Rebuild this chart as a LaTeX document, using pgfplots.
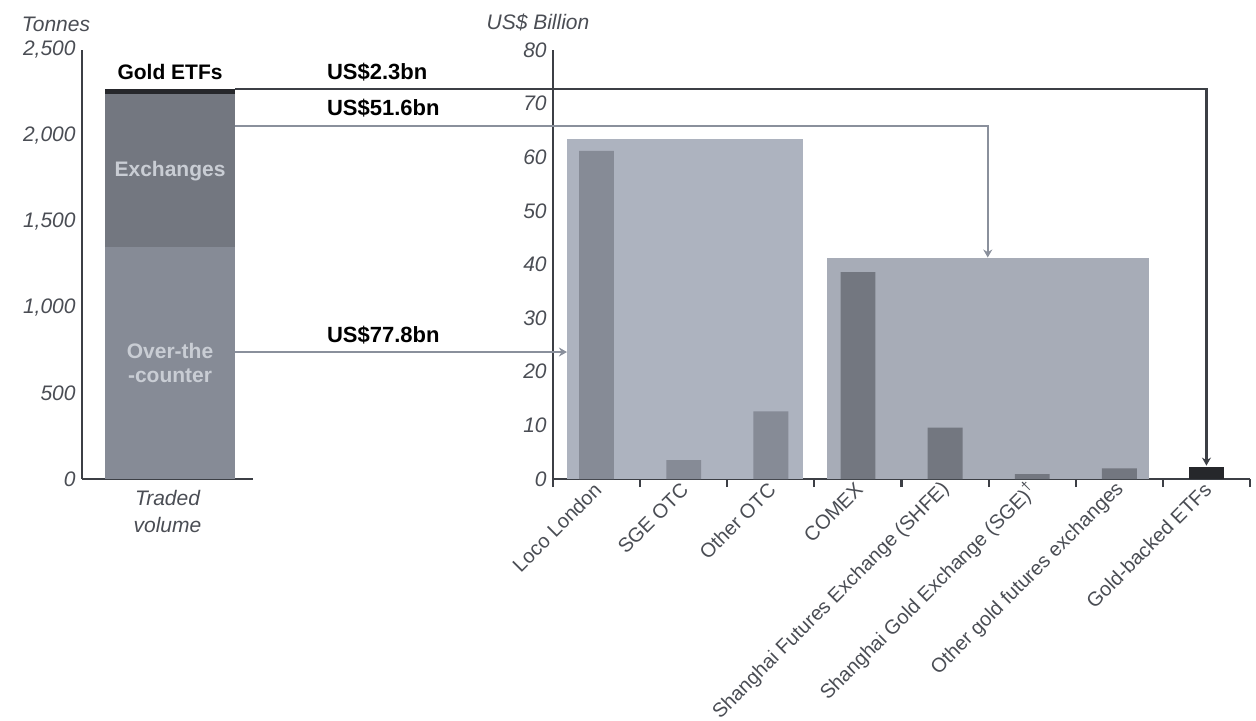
\documentclass[border=0pt]{standalone}
\usepackage{pgfplots}
\pgfplotsset{compat=1.18}
\usepackage{fontspec}
\setmainfont{Liberation Sans}
\usetikzlibrary{arrows.meta}
\definecolor{axcol}{HTML}{3C3F45}
\definecolor{tickcol}{HTML}{4A4D54}
\definecolor{otcbar}{HTML}{868B96}
\definecolor{exbar}{HTML}{737780}
\definecolor{etfbar}{HTML}{26272B}
\definecolor{otcbox}{HTML}{ADB3BF}
\definecolor{exbox}{HTML}{A7ACB7}
\definecolor{linegrey}{HTML}{8A909C}
\definecolor{lbltxt}{HTML}{C9CDD4}
\pgfplotsset{
 common/.style={
  scale only axis, height=214.5pt,
  axis lines*=left,
  axis line style={draw=axcol, line width=1.1pt},
  tick align=outside, major tick length=0pt, minor tick length=4pt,
  ytick style={draw=none},
  minor tick style={draw=axcol, line width=1.1pt},
  tick label style={font=\fontsize{10.5}{12}\selectfont\itshape, text=tickcol},
  yticklabel style={inner sep=1pt, xshift=-2pt},
  /pgf/number format/assume math mode=true,
  ymin=0, clip=false, enlargelimits=false,
 }
}
\begin{document}
\begin{tikzpicture}
\useasboundingbox (-41pt,-121pt) rectangle (587pt,239.5pt);
% ---------------- left axis: tonnes ----------------
\begin{axis}[common, at={(0pt,0pt)}, anchor=south west,
  width=85.5pt, xmin=0, xmax=1, ymax=2500,
  ytick={0,500,1000,1500,2000,2500},
  xtick=\empty, minor xtick={0,1},
  ybar stacked, bar width=65pt,
  xlabel={Traded\\volume},
  xlabel style={align=center, font=\fontsize{10.5}{13.5}\selectfont\itshape, text=tickcol, yshift=-2pt},
]
\addplot[fill=otcbar, draw=none] coordinates {(0.515,1350)};
\addplot[fill=exbar, draw=none] coordinates {(0.515,895)};
\addplot[fill=etfbar, draw=none] coordinates {(0.515,28)};
\coordinate (Lex) at (axis cs:0.515,1795);
\coordinate (Lotc) at (axis cs:0.515,676);
\coordinate (Letf) at (axis cs:0.515,2372);
\coordinate (Ltop) at (axis cs:0.895,2273);
\coordinate (L51) at (axis cs:0.895,2057);
\coordinate (L77) at (axis cs:0.895,740);
\end{axis}
% ---------------- right axis: US$ bn ----------------
\begin{axis}[common, at={(235.5pt,0pt)}, anchor=south west,
  width=348.5pt, xmin=-0.5, xmax=7.5, ymax=80,
  ytick={0,10,20,30,40,50,60,70,80},
  xtick={0,1,2,3,4,5,6,7},
  minor xtick={-0.5,0.5,1.5,2.5,3.5,4.5,5.5,6.5,7.5},
  xticklabels={Loco London, SGE OTC, Other OTC, COMEX, Shanghai Futures Exchange (SHFE), Shanghai Gold Exchange (SGE)\textsuperscript{†}, Other gold futures exchanges, Gold-backed ETFs},
  xticklabel style={rotate=45, anchor=east, font=\fontsize{10}{12}\selectfont, inner sep=2pt, yshift=-3pt},
]
\addplot[fill=otcbox, draw=none] coordinates {(-0.34,63.4) (2.37,63.4)} \closedcycle;
\addplot[fill=exbox, draw=none] coordinates {(2.65,41.2) (6.34,41.2)} \closedcycle;
\addplot[ybar, bar width=0.4, bar shift=0pt, fill=otcbar, draw=none] coordinates {(0,61.2) (1,3.5) (2,12.6)};
\addplot[ybar, bar width=0.4, bar shift=0pt, fill=exbar, draw=none] coordinates {(3,38.6) (4,9.6) (5,0.9) (6,2.0)};
\addplot[ybar, bar width=0.4, bar shift=0pt, fill=etfbar, draw=none] coordinates {(7,2.3)};
\coordinate (Retf) at (axis cs:7,2.5);
\coordinate (Rex) at (axis cs:4.49,41.3);
\coordinate (Rotc) at (axis cs:-0.34,23.7);
\end{axis}
% ---------------- labels in the traded-volume bar ----------------
\node[font=\fontsize{10.5}{12}\selectfont\bfseries, text=lbltxt] at (Lex) {Exchanges};
\node[font=\fontsize{10.5}{12}\selectfont\bfseries, text=lbltxt, align=center] at (Lotc) {Over-the\\-counter};
\node[font=\fontsize{10.5}{12}\selectfont\bfseries, text=black] at (Letf) {Gold ETFs};
% ---------------- connectors ----------------
\draw[draw=axcol, line width=1.2pt, -{Stealth[length=4pt,width=4.5pt]}] (Ltop) -| (Retf);
\draw[draw=linegrey, line width=1.2pt, -{Stealth[length=4pt,width=4.5pt]}] (L51) -| (Rex);
\draw[draw=linegrey, line width=1.2pt, -{Stealth[length=4pt,width=4.5pt]}] (L77) -- (Rotc |- L77);
\node[anchor=west, font=\fontsize{11}{12}\selectfont\bfseries] at (119pt,203.5pt) {US\$2.3bn};
\node[anchor=west, font=\fontsize{11}{12}\selectfont\bfseries] at (119pt,185.5pt) {US\$51.6bn};
\node[anchor=west, font=\fontsize{11}{12}\selectfont\bfseries] at (119pt,72pt) {US\$77.8bn};
\node[font=\fontsize{10.5}{12}\selectfont\itshape, text=tickcol] at (-13pt,227.5pt) {Tonnes};
\node[font=\fontsize{10.5}{12}\selectfont\itshape, text=tickcol] at (228pt,228.5pt) {US\$ Billion};
\end{tikzpicture}
\end{document}
